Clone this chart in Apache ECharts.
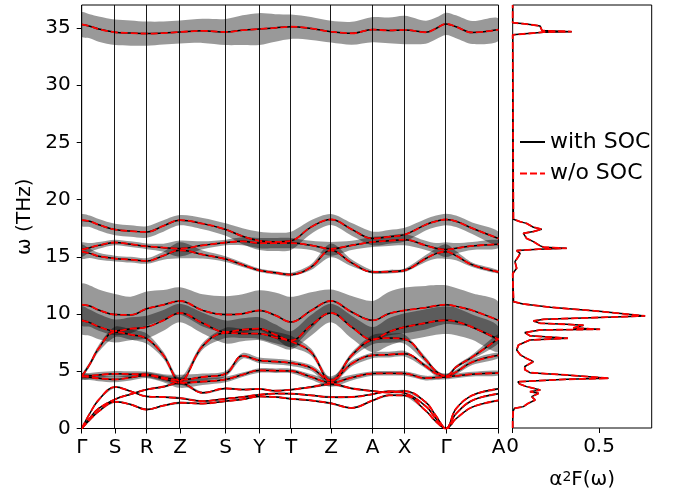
<!DOCTYPE html>
<html><head><meta charset="utf-8">
<script src="https://cdn.jsdelivr.net/npm/echarts@6/dist/echarts.min.js"></script>
<style>html,body{margin:0;padding:0;background:#fff}#c{width:679px;height:495px}</style>
</head><body><div id="c"></div>
<script>
// ---- k-path sampling (path distance, arbitrary units) ----
const kPath = [0, 0.08, 0.17, 0.333, 0.49, 0.65, 0.817, 0.983, 1.21, 1.44, 1.608, 1.776, 1.935, 2.093, 2.293, 2.493, 2.70, 2.91, 3.07, 3.23, 3.44, 3.543, 3.643, 3.743, 3.905, 4.168];
const hsK = [0, 0.333, 0.65, 0.983, 1.44, 1.776, 2.093, 2.493, 2.91, 3.23, 3.643, 4.168];
const hsLabels = ['Γ', 'S', 'R', 'Z', 'S', 'Y', 'T', 'Z', 'A', 'X', 'Γ', 'A'];
const yTicks = [0, 5, 10, 15, 20, 25, 30, 35];
const a2fTicks = [0, 0.5];

// ---- phonon branches (THz) ----
const acA = [0, 0.75, 1.5, 2.33, 2.1, 1.66, 2.0, 2.25, 2.18, 2.39, 2.55, 2.8, 2.75, 2.6, 2.45, 2.2, 1.8, 2.45, 2.9, 2.89, 1.55, 0.6, 0, 0.85, 1.87, 2.45];
const acB = [0, 1.3, 2.5, 3.62, 3.25, 2.8, 2.75, 2.65, 2.39, 2.6, 2.75, 2.95, 3.05, 3.04, 2.9, 2.74, 2.75, 3.0, 3.25, 3.09, 1.95, 0.85, 0, 1.29, 2.45, 3.04];
const acC = [0, 0.9, 1.75, 2.55, 3.0, 3.4, 3.65, 4.0, 3.12, 3.5, 3.4, 3.45, 3.3, 3.39, 3.62, 3.88, 3.5, 3.27, 3.15, 3.27, 2.3, 1.1, 0, 1.72, 2.89, 3.47];
const optL2 = [4.55, 4.48, 4.38, 4.29, 4.45, 4.65, 4.35, 4.0, 4.1, 4.29, 4.7, 5.07, 5.05, 5.02, 4.5, 4.0, 4.45, 4.8, 4.82, 4.8, 4.4, 4.45, 4.5, 4.6, 4.75, 4.84];
const optL1 = [4.55, 4.6, 4.68, 4.78, 4.75, 4.72, 4.45, 4.25, 4.5, 4.78, 6.35, 5.95, 5.85, 5.72, 5.3, 4.2, 5.66, 6.39, 6.45, 6.53, 5.45, 4.8, 4.6, 4.93, 5.8, 6.39];
const optM3 = [4.55, 5.6, 7.0, 8.43, 8.2, 7.85, 6.4, 4.15, 7.2, 8.35, 8.3, 8.28, 7.95, 7.6, 6.68, 4.15, 6.39, 7.76, 7.9, 7.8, 6.0, 5.0, 4.55, 5.36, 6.24, 7.85];
const optM2 = [9.45, 9.25, 8.9, 8.52, 8.72, 8.86, 9.45, 10.09, 9.21, 8.43, 8.63, 8.72, 8.2, 7.7, 9.01, 10.09, 8.86, 7.76, 8.43, 8.86, 9.21, 9.39, 9.45, 9.35, 8.85, 7.8];
const optM1 = [10.82, 10.7, 10.35, 9.95, 9.92, 10.47, 10.8, 11.14, 10.32, 9.95, 10.03, 10.32, 9.89, 9.3, 10.3, 11.14, 10.18, 9.45, 10.03, 10.32, 10.56, 10.73, 10.82, 10.67, 10.32, 9.45];
const optH3 = [15.45, 15.3, 15.05, 14.85, 14.75, 14.64, 15.1, 15.57, 15.2, 14.8, 14.3, 13.82, 13.6, 13.45, 14.1, 15.57, 14.47, 13.68, 13.7, 13.82, 14.85, 15.28, 15.45, 15.1, 14.3, 13.68];
const optH2 = [15.63, 15.8, 16.0, 16.25, 16.1, 15.92, 15.8, 15.72, 16.0, 16.25, 16.35, 16.2, 16.2, 16.2, 16.0, 15.7, 16.0, 16.3, 16.4, 16.5, 16.0, 15.75, 15.63, 15.75, 15.95, 16.1];
const optH1 = [18.2, 18.1, 17.8, 17.38, 17.25, 17.17, 17.7, 18.2, 17.9, 17.38, 16.8, 16.4, 16.3, 16.4, 17.6, 18.26, 17.4, 16.6, 16.75, 16.94, 17.8, 18.1, 18.26, 18.1, 17.5, 16.6];
const optTop = [35.3, 35.15, 34.9, 34.62, 34.55, 34.5, 34.55, 34.64, 34.74, 34.64, 34.8, 34.9, 35.0, 35.1, 34.95, 34.67, 34.53, 34.85, 34.78, 34.82, 34.62, 34.95, 35.35, 35.1, 34.6, 34.85];

// ---- linewidth half-widths (THz) ----
const wAcA = [0, 0.05, 0.06, 0.08, 0.08, 0.08, 0.08, 0.1, 0.08, 0.08, 0.08, 0.08, 0.08, 0.08, 0.08, 0.1, 0.08, 0.08, 0.08, 0.08, 0.06, 0.05, 0, 0.05, 0.06, 0.08];
const wAcB = [0, 0.05, 0.06, 0.08, 0.08, 0.08, 0.08, 0.1, 0.08, 0.08, 0.08, 0.08, 0.08, 0.08, 0.08, 0.1, 0.08, 0.08, 0.08, 0.08, 0.06, 0.05, 0, 0.05, 0.06, 0.08];
const wAcC = [0, 0.05, 0.06, 0.08, 0.08, 0.08, 0.1, 0.15, 0.1, 0.08, 0.08, 0.08, 0.08, 0.08, 0.1, 0.15, 0.1, 0.08, 0.08, 0.08, 0.06, 0.05, 0, 0.05, 0.06, 0.08];
const wL2 = [0.25, 0.25, 0.25, 0.25, 0.25, 0.25, 0.3, 0.45, 0.3, 0.25, 0.2, 0.2, 0.2, 0.2, 0.25, 0.35, 0.25, 0.2, 0.2, 0.2, 0.2, 0.2, 0.2, 0.2, 0.2, 0.2];
const wL1 = [0.25, 0.25, 0.25, 0.25, 0.25, 0.25, 0.3, 0.45, 0.3, 0.25, 0.25, 0.25, 0.25, 0.25, 0.25, 0.35, 0.25, 0.25, 0.25, 0.25, 0.2, 0.2, 0.2, 0.2, 0.25, 0.25];
const wM3 = [0.15, 0.2, 0.3, 0.45, 0.45, 0.45, 0.3, 0.3, 0.3, 0.45, 0.4, 0.45, 0.5, 0.5, 0.3, 0.25, 0.25, 0.4, 0.4, 0.4, 0.25, 0.15, 0.15, 0.15, 0.2, 0.4];
const wM2 = [1.2, 1.15, 1.1, 1.0, 1.0, 1.0, 0.9, 0.8, 0.9, 1.0, 1.0, 1.0, 0.9, 0.8, 0.9, 0.8, 1.0, 1.1, 1.2, 1.2, 1.2, 1.2, 1.2, 1.2, 1.1, 1.1];
const wM1 = [1.8, 1.8, 1.8, 1.8, 1.6, 1.5, 1.3, 1.2, 1.4, 1.6, 1.7, 1.75, 2.0, 2.2, 1.6, 1.0, 1.4, 1.7, 1.9, 2.0, 1.9, 1.8, 1.7, 1.6, 1.5, 1.6];
const wH3 = [0.6, 0.4, 0.3, 0.25, 0.25, 0.25, 0.35, 0.7, 0.35, 0.25, 0.2, 0.15, 0.15, 0.15, 0.25, 0.6, 0.3, 0.15, 0.15, 0.15, 0.3, 0.45, 0.65, 0.4, 0.2, 0.15];
const wH2 = [0.6, 0.4, 0.3, 0.25, 0.25, 0.25, 0.35, 0.7, 0.35, 0.25, 0.35, 0.45, 0.45, 0.45, 0.4, 0.6, 0.4, 0.45, 0.45, 0.5, 0.4, 0.45, 0.65, 0.45, 0.35, 0.35];
const wH1 = [0.5, 0.5, 0.5, 0.5, 0.5, 0.5, 0.5, 0.45, 0.5, 0.55, 0.7, 0.8, 0.8, 0.8, 0.6, 0.48, 0.55, 0.6, 0.6, 0.6, 0.5, 0.5, 0.5, 0.5, 0.5, 0.6];
const wTop = [1.05, 1.05, 1.1, 1.12, 1.1, 1.05, 1.0, 1.0, 1.05, 1.14, 1.3, 1.39, 1.2, 1.06, 1.0, 0.95, 1.0, 1.1, 1.12, 1.24, 1.0, 0.95, 0.98, 1.0, 1.0, 0.98];

// ---- Eliashberg function alpha^2F(omega) ----
const a2fOmega = [0, 0.7, 1.5, 1.72, 1.87, 2.16, 2.45, 2.74, 3.03, 3.18, 3.32, 3.62, 3.85, 4.05, 4.26, 4.35, 4.64, 4.84, 5.1, 5.38, 5.8, 6.09, 6.39, 6.82, 7.26, 7.7, 7.85, 8.06, 8.35, 8.58, 8.63, 8.75, 8.87, 8.99, 9.07, 9.16, 9.36, 9.51, 9.8, 10.21, 10.56, 10.85, 11.05, 11.2, 13.5, 13.6, 13.97, 14.55, 14.99, 15.28, 15.52, 15.64, 15.72, 15.81, 15.93, 16.3, 16.59, 17.03, 17.18, 17.38, 17.56, 17.9, 18.05, 18.26, 18.35, 34.39, 34.53, 34.62, 34.67, 34.76, 34.88, 35.17, 35.35, 35.45, 37];
const a2fValue = [0, 0, 0.003, 0.01, 0.062, 0.09, 0.13, 0.11, 0.15, 0.10, 0.16, 0.08, 0.04, 0.03, 0.31, 0.555, 0.31, 0.1, 0.07, 0.07, 0.12, 0.08, 0.045, 0.023, 0.033, 0.1, 0.32, 0.1, 0.07, 0.16, 0.506, 0.35, 0.35, 0.41, 0.31, 0.16, 0.12, 0.18, 0.767, 0.5, 0.22, 0.06, 0.005, 0, 0, 0.004, 0.023, 0.013, 0.033, 0.043, 0.023, 0.15, 0.313, 0.18, 0.16, 0.12, 0.08, 0.062, 0.12, 0.168, 0.12, 0.08, 0.042, 0.004, 0, 0, 0.004, 0.178, 0.342, 0.17, 0.168, 0.158, 0.07, 0, 0];

const branches = [
  {f: acA, w: wAcA}, {f: acB, w: wAcB}, {f: acC, w: wAcC},
  {f: optL2, w: wL2}, {f: optL1, w: wL1}, {f: optM3, w: wM3},
  {f: optM2, w: wM2}, {f: optM1, w: wM1},
  {f: optH3, w: wH3}, {f: optH2, w: wH2}, {f: optH1, w: wH1},
  {f: optTop, w: wTop}
];

const FONT = 'DejaVu Sans';
const txt = {fontFamily: FONT, fontSize: 20, color: '#000'};
const DASH = [7, 3];

function hsLabel(v) {
  let best = 0, d = 1e9;
  hsK.forEach((k, i) => { const dd = Math.abs(k - v); if (dd < d) { d = dd; best = i; } });
  return hsLabels[best];
}

function renderShade(params, api) {
  const b = branches[params.dataIndex];
  const up = [], lo = [];
  for (let i = 0; i < kPath.length; i++) {
    up.push(api.coord([kPath[i], b.f[i] + b.w[i]]));
    lo.push(api.coord([kPath[i], b.f[i] - b.w[i]]));
  }
  const cs = params.coordSys;
  return {
    type: 'group',
    clipPath: {type: 'rect', shape: {x: cs.x, y: cs.y, width: cs.width, height: cs.height}},
    children: [{
      type: 'polygon',
      shape: {points: up.concat(lo.reverse()), smooth: 0.3},
      style: {fill: 'rgba(0,0,0,0.4)', stroke: null}
    }]
  };
}

const series = [];
series.push({
  type: 'custom', xAxisIndex: 0, yAxisIndex: 0, z: 1, silent: true,
  renderItem: renderShade,
  data: branches.map(b => [kPath[0], b.f[0]])
});
series.push({
  type: 'line', xAxisIndex: 0, yAxisIndex: 0, data: [], z: 2, silent: true,
  markLine: {
    silent: true, symbol: ['none', 'none'], label: {show: false},
    lineStyle: {color: '#000', width: 0.9, type: 'solid'},
    data: hsK.map(k => ({xAxis: k}))
  }
});
branches.forEach(b => {
  const d = kPath.map((k, i) => [k, b.f[i]]);
  series.push({name: 'with SOC', type: 'line', xAxisIndex: 0, yAxisIndex: 0, data: d, smooth: 0.4,
    symbol: 'none', lineStyle: {color: '#000', width: 1.5}, itemStyle: {color: '#000'}, z: 3, silent: true});
  series.push({name: 'w/o SOC', type: 'line', xAxisIndex: 0, yAxisIndex: 0, data: d, smooth: 0.4,
    symbol: 'none', lineStyle: {color: '#ff0000', width: 1.8, type: DASH}, itemStyle: {color: '#ff0000'}, z: 4, silent: true});
});
const a2fData = a2fOmega.map((w, i) => [a2fValue[i], w]);
series.push({name: 'with SOC', type: 'line', xAxisIndex: 1, yAxisIndex: 1, data: a2fData,
  symbol: 'none', lineStyle: {color: '#000', width: 1.5}, itemStyle: {color: '#000'}, z: 3, silent: true});
series.push({name: 'w/o SOC', type: 'line', xAxisIndex: 1, yAxisIndex: 1, data: a2fData,
  symbol: 'none', lineStyle: {color: '#ff0000', width: 1.8, type: DASH}, itemStyle: {color: '#ff0000'}, z: 4, silent: true});

const chart = echarts.init(document.getElementById('c'));
chart.setOption({
  animation: false,
  backgroundColor: '#fff',
  grid: [
    {left: 81.7, right: 180.5, top: 5, bottom: 66.5, show: true, borderColor: '#000', borderWidth: 1, backgroundColor: 'rgba(0,0,0,0)'},
    {left: 512.7, right: 27.3, top: 5, bottom: 66.5, show: true, borderColor: '#000', borderWidth: 1, backgroundColor: 'rgba(0,0,0,0)'}
  ],
  legend: {
    data: ['with SOC', 'w/o SOC'], orient: 'vertical', left: 519, top: 131, padding: 0,
    itemWidth: 25, itemHeight: 2, itemGap: 9.5, selectedMode: false,
    itemStyle: {opacity: 0},
    textStyle: {fontFamily: FONT, fontSize: 22, color: '#000'}
  },
  xAxis: [
    {gridIndex: 0, type: 'value', min: 0, max: 4.168,
      axisLine: {show: false}, splitLine: {show: false},
      axisTick: {show: true, customValues: hsK, length: 5, lineStyle: {color: '#000', width: 1}},
      axisLabel: Object.assign({customValues: hsK, formatter: v => hsLabel(v), margin: 9}, txt)},
    {gridIndex: 1, type: 'value', min: 0, max: 0.805,
      axisLine: {show: false}, splitLine: {show: false},
      axisTick: {show: true, customValues: a2fTicks, length: 5, lineStyle: {color: '#000', width: 1}},
      axisLabel: Object.assign({customValues: a2fTicks, formatter: v => (v === 0 ? '0' : String(v)), margin: 9}, txt),
      name: '{n|α}{s|2}{n|F(ω)}', nameLocation: 'middle', nameGap: 42,
      nameTextStyle: Object.assign({rich: {
        n: {fontFamily: FONT, fontSize: 20, color: '#000'},
        s: {fontFamily: FONT, fontSize: 14, color: '#000', verticalAlign: 'top'}
      }}, txt)}
  ],
  yAxis: [
    {gridIndex: 0, type: 'value', min: 0, max: 37,
      axisLine: {show: false}, splitLine: {show: false},
      axisTick: {show: true, customValues: yTicks, length: 5, lineStyle: {color: '#000', width: 1}},
      axisLabel: Object.assign({customValues: yTicks, margin: 11}, txt),
      name: 'ω (THz)', nameLocation: 'middle', nameRotate: 90, nameGap: 45, nameTextStyle: txt},
    {gridIndex: 1, type: 'value', min: 0, max: 37,
      axisLine: {show: false}, splitLine: {show: false}, axisTick: {show: false}, axisLabel: {show: false}}
  ],
  series: series
});
</script>
</body></html>
